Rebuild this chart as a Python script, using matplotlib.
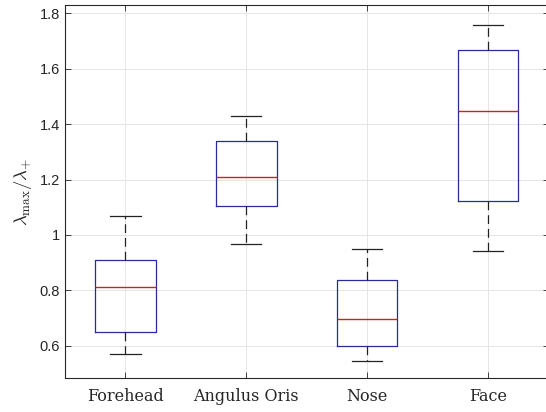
import matplotlib
matplotlib.use("Agg")
import matplotlib.pyplot as plt

categories = ["Forehead", "Angulus Oris", "Nose", "Face"]
whislo = [0.570, 0.969, 0.546, 0.943]
q1 = [0.652, 1.103, 0.600, 1.124]
med = [0.813, 1.208, 0.698, 1.447]
q3 = [0.911, 1.338, 0.836, 1.665]
whishi = [1.068, 1.429, 0.948, 1.757]
yticks = [0.6, 0.8, 1.0, 1.2, 1.4, 1.6, 1.8]
ytick_labels = ["0.6", "0.8", "1", "1.2", "1.4", "1.6", "1.8"]

plt.rcParams["mathtext.fontset"] = "cm"
fig = plt.figure(figsize=(5.46, 4.12), dpi=100)
ax = fig.add_axes([65/546, 34/412, 483.5/546, 373/412])

stats = []
for i, c in enumerate(categories):
    stats.append(dict(label=c, whislo=whislo[i], q1=q1[i], med=med[i],
                      q3=q3[i], whishi=whishi[i], fliers=[]))

ax.bxp(stats, positions=range(1, len(categories) + 1), widths=0.5,
       showfliers=False, patch_artist=False,
       boxprops=dict(color="#2a2aa0", linewidth=0.9),
       medianprops=dict(color="#e01818", linewidth=1.0),
       whiskerprops=dict(color="#222222", linewidth=0.9, linestyle=(0, (7, 4))),
       capprops=dict(color="#222222", linewidth=0.9),
       capwidths=0.25)

ax.set_xlim(0.5, 4.5)
ax.set_ylim(0.4845, 1.829)
ax.set_yticks(yticks)
ax.set_yticklabels(ytick_labels, fontfamily="Liberation Sans", fontsize=10.5, color="#262626")
ax.set_xticks(range(1, len(categories) + 1))
ax.set_xticklabels(categories, fontfamily="DejaVu Serif", fontsize=11.5, color="#262626")
ax.grid(True, color="#e6e6e6", linewidth=0.7)
ax.set_axisbelow(True)
ax.tick_params(direction="in", length=4, top=True, right=True, width=0.6, color="#262626")
ax.tick_params(axis="x", pad=7)
for s in ax.spines.values():
    s.set_linewidth(0.8)
    s.set_color("#262626")
ax.set_ylabel(r"$\lambda_{\max}/\lambda_{+}$", fontsize=13.5, color="#262626", labelpad=4)

fig.savefig("out.png", dpi=100)
